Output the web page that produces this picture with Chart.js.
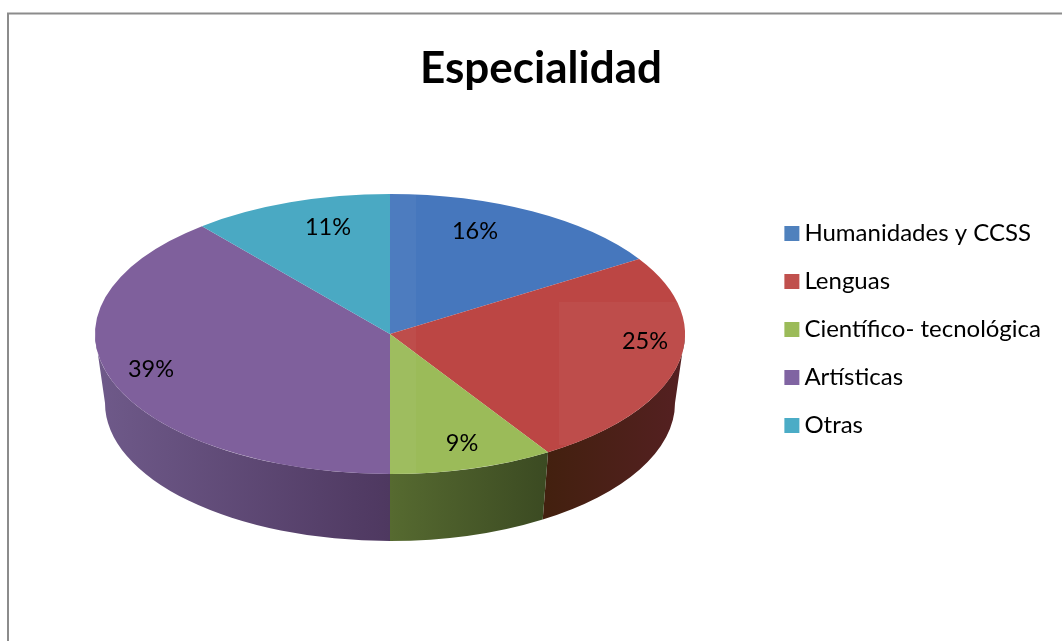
<!DOCTYPE html>
<html>
<head>
<meta charset="utf-8">
<style>html,body{margin:0;padding:0;background:#fff}canvas{display:block}</style>
<script src="https://cdn.jsdelivr.net/npm/chart.js@4"></script>
</head>
<body>
<canvas id="c" width="1062" height="641"></canvas>
<script>
const chartTitle = 'Especialidad';
const categories = ['Humanidades y CCSS', 'Lenguas', 'Científico- tecnológica', 'Artísticas', 'Otras'];
const shares = [16, 25, 9, 39, 11];
const legendColors = ['#4F81BD', '#C0504D', '#9BBB59', '#8064A2', '#4BACC6'];
const topColors = ['#4677BD', '#BC4644', '#9BBB59', '#7F609C', '#4AA9C3'];
const wallLeft = ['#2c4a75', '#43200f', '#566A30', '#6F5A8A', '#2c6a7a'];
const wallRight = ['#2c4a75', '#552022', '#3B4A22', '#4E3860', '#2c6a7a'];

const look = {cx: 390, cy: 334, rx: 295, ry: 140, wallCy: 403, wallRx: 285, wallRy: 138};
const labelSpots = [[475, 231], [645, 341], [462, 443], [151, 369], [328, 227]];

const pie3d = {
  id: 'pie3d',
  beforeDraw(chart) {
    const c = chart.ctx;
    c.save();
    c.fillStyle = '#fff';
    c.fillRect(0, 0, chart.width, chart.height);
    c.strokeStyle = '#8c8c8c';
    c.lineWidth = 2;
    c.beginPath();
    c.moveTo(8, chart.height);
    c.lineTo(8, 13.5);
    c.lineTo(chart.width, 13.5);
    c.stroke();
    c.restore();
  },
  beforeDatasetsDraw(chart) {
    const c = chart.ctx;
    const arcs = chart.getDatasetMeta(0).data;
    arcs.forEach((a, i) => {
      const s = Math.max(a.startAngle, 0), e = Math.min(a.endAngle, Math.PI);
      if (e <= s) return;
      const x0 = look.cx + look.rx * Math.cos(e), x1 = look.cx + look.rx * Math.cos(s);
      const g = c.createLinearGradient(x0, 0, x1, 0);
      g.addColorStop(0, wallLeft[i]);
      g.addColorStop(1, wallRight[i]);
      c.save();
      c.fillStyle = g;
      c.beginPath();
      c.ellipse(look.cx, look.cy, look.rx, look.ry, 0, s, e);
      c.ellipse(look.cx, look.wallCy, look.wallRx, look.wallRy, 0, e, s, true);
      c.closePath();
      c.fill();
      c.restore();
    });
    const first = arcs[0];
    c.save();
    c.translate(look.cx, look.cy);
    c.scale(look.rx / first.outerRadius, look.ry / first.outerRadius);
    c.translate(-first.x, -first.y);
  },
  afterDatasetsDraw(chart) {
    const c = chart.ctx;
    c.restore();
    c.save();
    c.beginPath();
    c.ellipse(look.cx, look.cy, look.rx, look.ry, 0, 0, Math.PI * 2);
    c.clip();
    c.fillStyle = 'rgba(255,255,255,0.04)';
    c.fillRect(390, 190, 26, 290);
    c.fillRect(559, 302, 130, 143);
    c.restore();
    c.save();
    c.fillStyle = '#000';
    c.font = '23.5px Lato';
    c.textAlign = 'center';
    c.textBaseline = 'middle';
    shares.forEach((v, i) => c.fillText(v + '%', labelSpots[i][0], labelSpots[i][1]));
    c.restore();
  }
};

new Chart(document.getElementById('c'), {
  type: 'pie',
  data: {
    labels: categories,
    datasets: [{data: shares, backgroundColor: topColors, borderWidth: 0, hoverOffset: 0}]
  },
  options: {
    responsive: false,
    animation: false,
    layout: {padding: {left: 31, right: 11, top: 18, bottom: 0}},
    plugins: {
      tooltip: {enabled: false},
      title: {
        display: true,
        text: chartTitle,
        color: '#000',
        font: {family: 'Lato', size: 44, weight: 'bold'},
        padding: {top: 24, bottom: 100}
      },
      legend: {
        position: 'right',
        labels: {
          color: '#000',
          font: {family: 'Lato', size: 24},
          usePointStyle: true,
          pointStyle: 'rect',
          boxWidth: 1,
          boxHeight: 15,
          padding: 24,
          generateLabels(chart) {
            return categories.map((t, i) => ({text: t, fillStyle: legendColors[i], strokeStyle: legendColors[i], lineWidth: 0, pointStyle: 'rect', index: i, hidden: false}));
          }
        }
      }
    }
  },
  plugins: [pie3d]
});
</script>
</body>
</html>
